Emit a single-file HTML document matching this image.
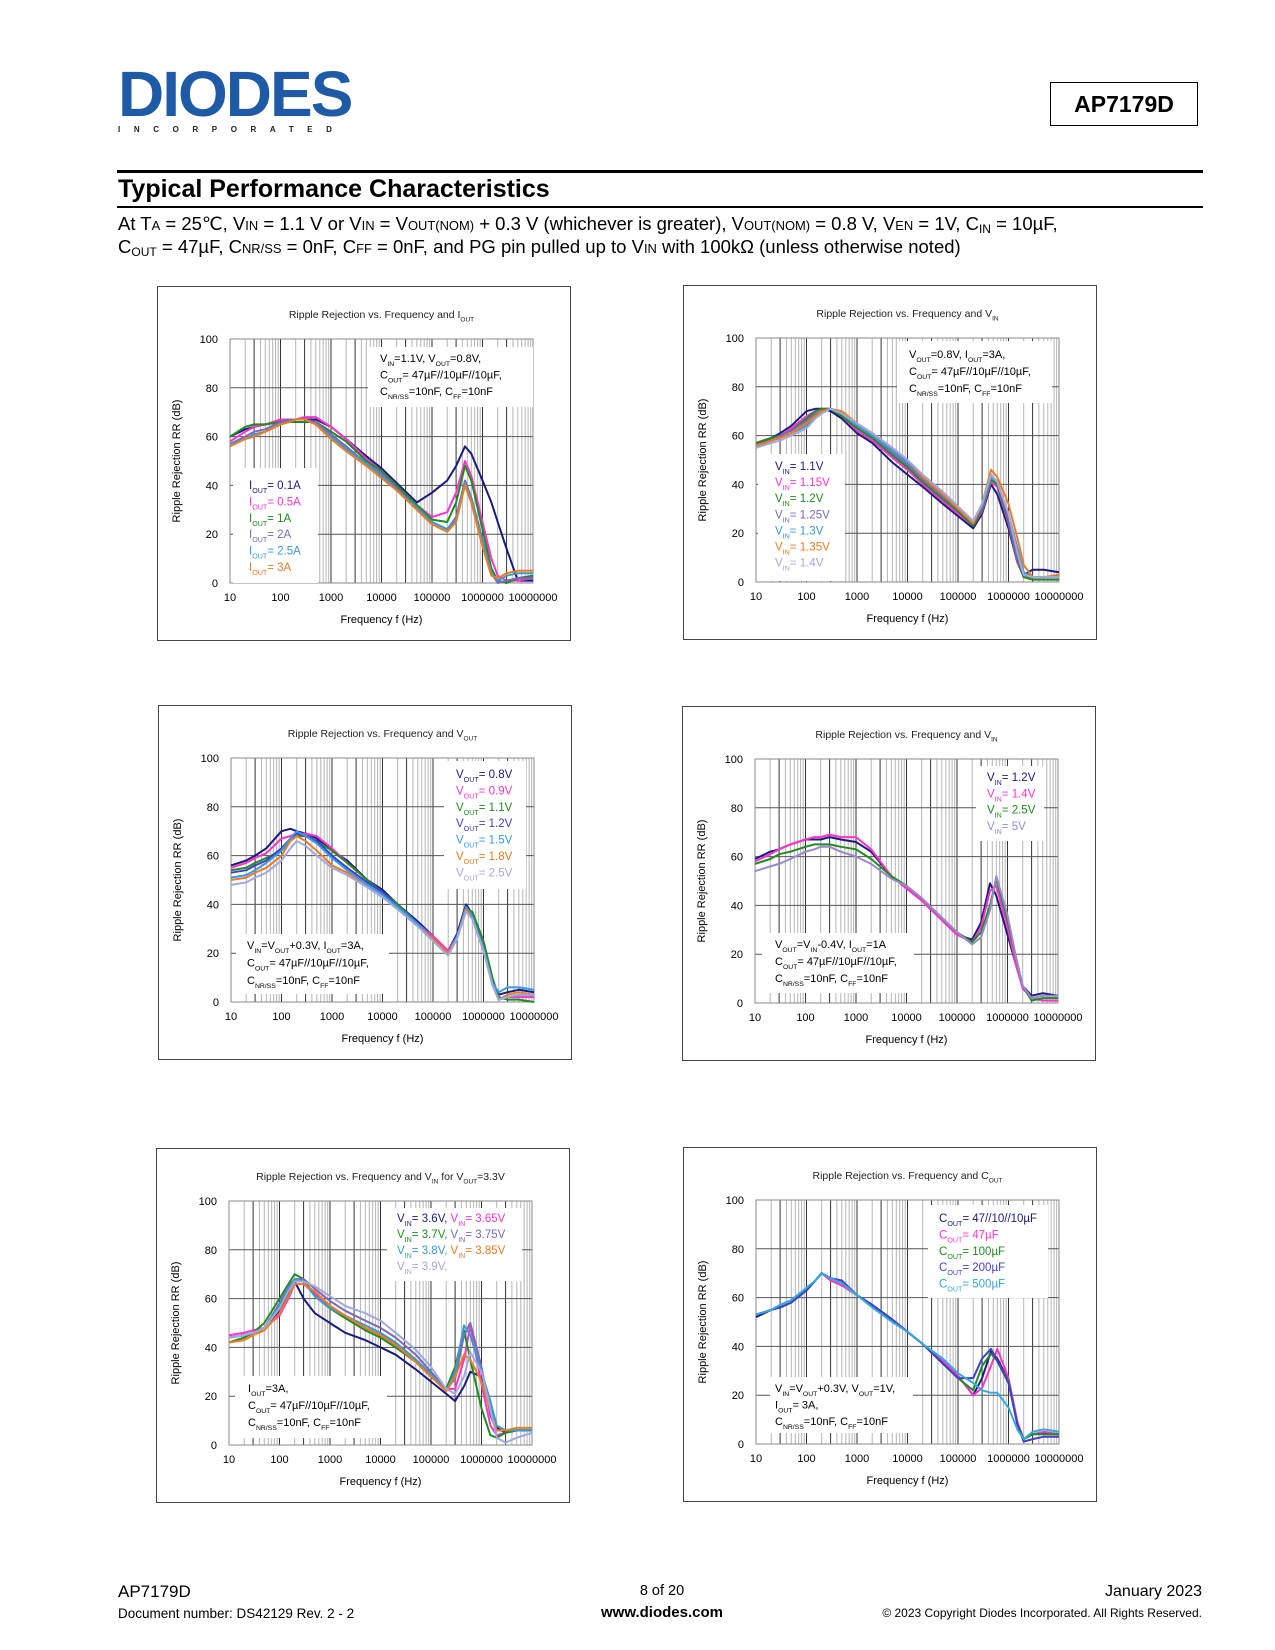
<!DOCTYPE html>
<html><head><meta charset="utf-8">
<style>
body{margin:0;background:#fff;}
#page{position:relative;width:1275px;height:1650px;overflow:hidden;font-family:"Liberation Sans",Arial,sans-serif;color:#000;}
.abs{position:absolute;white-space:nowrap;}
sub{font-size:65%;vertical-align:-3px;line-height:0;}
.sc{font-size:70%;}
</style></head>
<body>
<div id="page">
  <div class="abs" style="left:118px;top:62px;">
    <div style="font-weight:bold;font-size:64px;color:#1f5aa6;letter-spacing:-2px;line-height:64px;">DIODES</div>
    <div style="font-weight:bold;font-size:8px;color:#222;letter-spacing:13.6px;margin-top:-1px;">INCORPORATED</div>
  </div>
  <div class="abs" style="left:1050px;top:82px;width:146px;height:42px;border:1px solid #000;font-weight:bold;font-size:23px;text-align:center;line-height:42px;">AP7179D</div>
  <div class="abs" style="left:117px;top:170px;width:1086px;height:3px;background:#000;"></div>
  <div class="abs" style="left:118px;top:174px;font-weight:bold;font-size:25px;line-height:30px;">Typical Performance Characteristics</div>
  <div class="abs" style="left:117px;top:206px;width:1086px;height:2px;background:#000;"></div>
  <div class="abs" style="left:118px;top:213px;font-size:18.5px;line-height:22px;">At T<span class="sc">A</span> = 25℃, V<span class="sc">IN</span> = 1.1 V or V<span class="sc">IN</span> = V<span class="sc">OUT(NOM)</span> + 0.3 V (whichever is greater), V<span class="sc">OUT(NOM)</span> = 0.8 V, V<span class="sc">EN</span> = 1V, C<sub>IN</sub> = 10µF,</div>
  <div class="abs" style="left:118px;top:236px;font-size:18.5px;line-height:22px;">C<sub>OUT</sub> = 47µF, C<span class="sc">NR/SS</span> = 0nF, C<span class="sc">FF</span> = 0nF, and PG pin pulled up to V<span class="sc">IN</span> with 100kΩ (unless otherwise noted)</div>

  <svg id="charts" width="1275" height="1650" style="position:absolute;left:0;top:0;" xmlns="http://www.w3.org/2000/svg"></svg>

  <div class="abs" style="left:118px;top:1582px;font-size:17px;">AP7179D</div>
  <div class="abs" style="left:118px;top:1606px;font-size:13.5px;">Document number: DS42129 Rev. 2 - 2</div>
  <div class="abs" style="left:612px;width:100px;text-align:center;top:1583px;font-size:14.5px;">8 of 20</div>
  <div class="abs" style="left:582px;width:160px;text-align:center;top:1604px;font-size:15px;font-weight:bold;">www.diodes.com</div>
  <div class="abs" style="right:73px;top:1583px;font-size:16px;">January 2023</div>
  <div class="abs" style="right:73px;top:1606px;font-size:12px;">© 2023 Copyright Diodes Incorporated. All Rights Reserved.</div>
</div>

<script>
// ---------- shared frequency points (Hz) ----------
const freqHz = [10,20,30,50,100,150,200,300,500,1000,2000,5000,1e4,2e4,5e4,1e5,2e5,3e5,4.5e5,6e5,1e6,1.5e6,2e6,3e6,5e6,1e7];
const xTickLabels = ["10","100","1000","10000","100000","1000000","10000000"];
const yTickLabels = ["0","20","40","60","80","100"];

// ---------- chart 1: RR vs Iout ----------
const c1Iout01 = [60,63,64,65,66,67,67,67,67,64,59,52,47,41,33,37,42,48,56,53,42,33,25,14,1,1];
const c1Iout05 = [58,62,64,65,67,67,67,68,68,64,59,51,46,40,32,27,29,37,50,44,25,10,3,1,1,2];
const c1Iout1  = [60,64,65,65,66,66,66,66,66,62,58,50,46,40,32,26,25,33,48,42,22,6,1,0,2,3];
const c1Iout2  = [57,60,62,63,66,67,67,67,66,61,56,49,45,39,31,25,22,27,42,35,18,4,0,1,2,2];
const c1Iout25 = [57,59,61,62,65,66,67,67,65,60,55,49,44,38,31,25,22,26,41,34,17,4,1,3,4,4];
const c1Iout3  = [56,59,60,62,65,66,67,67,65,59,54,48,43,38,30,24,21,25,40,33,15,3,2,4,5,5];

// ---------- chart 2: RR vs Vin ----------
const c2Vin110 = [56,59,61,64,70,71,71,70,67,61,57,49,44,39,32,27,22,28,40,36,22,8,3,5,5,4];
const c2Vin115 = [57,59,60,63,68,70,71,71,68,62,58,51,46,40,33,28,23,29,41,39,24,8,2,2,2,2];
const c2Vin120 = [57,59,60,62,67,70,71,71,68,63,59,52,47,41,34,29,23,30,42,40,25,9,2,1,1,1];
const c2Vin125 = [56,58,60,62,66,69,70,71,69,64,60,53,48,42,35,30,24,31,44,41,26,10,3,2,2,2];
const c2Vin130 = [55,58,59,61,64,68,70,71,69,64,60,54,49,43,36,30,25,31,43,41,28,14,4,2,2,2];
const c2Vin135 = [56,58,59,61,65,68,70,71,70,65,61,55,50,43,36,30,24,32,46,43,32,18,7,2,2,3];
const c2Vin140 = [55,57,58,60,63,67,69,71,69,65,61,55,50,44,37,31,25,32,44,41,28,12,3,2,2,2];

// ---------- chart 3: RR vs Vout ----------
const c3Vout08 = [56,58,60,63,70,71,70,69,67,62,58,50,46,40,33,27,21,28,40,36,22,8,3,4,5,4];
const c3Vout09 = [55,57,59,61,67,68,69,69,68,63,57,50,45,40,32,27,21,27,38,36,22,7,1,2,2,2];
const c3Vout11 = [54,55,57,59,62,66,68,68,66,62,57,50,45,40,32,26,20,27,38,37,25,10,2,1,1,0];
const c3Vout12 = [53,54,56,58,63,67,69,68,66,60,55,49,45,39,32,26,20,27,38,35,22,7,1,2,3,3];
const c3Vout15 = [51,52,54,57,62,67,70,68,65,59,54,48,44,39,32,26,20,27,39,35,22,8,4,6,6,5];
const c3Vout18 = [50,51,53,55,60,66,68,66,62,56,53,47,43,38,31,26,20,26,38,34,21,7,1,3,4,3];
const c3Vout25 = [48,49,51,53,58,63,66,64,60,55,52,47,43,38,31,25,19,26,37,34,21,7,1,2,3,3];

// ---------- chart 4: RR vs Vin (Vout = Vin - 0.4V) ----------
const c4Vin12 = [59,62,63,65,67,67,67,68,67,66,62,52,47,42,34,28,26,33,49,44,28,15,7,3,4,3];
const c4Vin14 = [58,61,63,65,67,68,68,69,68,68,63,52,47,42,34,28,25,31,46,48,31,15,6,2,1,1];
const c4Vin25 = [57,59,61,62,64,65,65,65,64,63,59,52,48,43,35,29,25,29,40,51,34,18,7,1,2,2];
const c4Vin5  = [54,56,57,59,62,63,64,64,62,60,57,51,48,43,35,29,24,27,38,52,36,18,7,2,3,3];

// ---------- chart 5: RR vs Vin for Vout=3.3V ----------
const c5Vin360 = [44,45,46,48,55,62,67,60,54,50,46,43,40,37,31,26,21,18,24,30,28,15,7,5,6,6];
const c5Vin365 = [45,46,47,48,53,60,66,66,62,57,53,48,45,42,35,29,23,23,35,49,25,8,4,5,6,6];
const c5Vin370 = [42,44,46,50,60,66,70,68,61,56,52,47,44,40,34,28,23,32,47,35,15,4,3,5,6,6];
const c5Vin375 = [44,45,46,48,58,65,68,68,64,59,55,51,48,44,37,30,23,27,45,50,32,12,6,6,6,6];
const c5Vin380 = [44,45,46,48,57,64,68,67,61,56,53,49,46,42,35,29,22,30,49,45,30,18,8,6,6,6];
const c5Vin385 = [42,43,45,47,54,61,66,66,63,57,53,48,45,41,34,28,22,28,37,35,26,14,6,6,7,7];
const c5Vin390 = [44,45,46,48,56,63,67,67,65,61,57,54,51,46,39,32,23,21,28,38,30,15,3,1,3,5];

// ---------- chart 6: RR vs Cout ----------
const c6Cout47x = [52,55,56,58,63,67,70,68,66,61,57,51,46,41,33,28,20,27,38,35,26,8,2,4,4.5,4];
const c6Cout47  = [53,55,56,58,63,67,70,67,65,61,57,51,46,41,34,28,20,23,32,39,27,9,2,4,5,4];
const c6Cout100 = [53,55,56,58,63,67,70,68,66,61,57,51,46,41,33,27,22,32,37,34,26,8,2,4,4,4];
const c6Cout200 = [53,55,56,58,63,67,70,68,67,61,57,51,46,41,33,27,27,35,39,34,25,8,1,2,3,3];
const c6Cout500 = [53,55,57,59,64,67,70,68,66,61,56,50,46,41,35,29,25,22,21,21,15,6,2,5,6,5];

const NAVY="#1a1a80", MAG="#ff33cc", GRN="#1f8c1f", PUR="#7a68b8", CYA="#3a9ad0", ORG="#ee7a22", LAV="#a0a8e0", BLU="#4040c8", SKY="#33aadd";

const charts = [
 {name:"chart-ripple-vs-iout", px:230, py:339, title:"Ripple Rejection vs. Frequency and I_{OUT}",
  series:[["0.1A",c1Iout01,NAVY],["0.5A",c1Iout05,MAG],["1A",c1Iout1,GRN],["2A",c1Iout2,PUR],["2.5A",c1Iout25,CYA],["3A",c1Iout3,ORG]],
  legendBox:[3,129,85,115], legendText:[19,150,16.4], legendLabels:["I_{OUT}= 0.1A","I_{OUT}= 0.5A","I_{OUT}= 1A","I_{OUT}= 2A","I_{OUT}= 2.5A","I_{OUT}= 3A"],
  noteBox:[138,8,165,60], noteText:[150,23,16.5], noteLines:["V_{IN}=1.1V, V_{OUT}=0.8V,","C_{OUT}= 47µF//10µF//10µF,","C_{NR/SS}=10nF, C_{FF}=10nF"]},
 {name:"chart-ripple-vs-vin", px:756, py:338, title:"Ripple Rejection vs. Frequency and V_{IN}",
  series:[["1.1V",c2Vin110,NAVY],["1.15V",c2Vin115,MAG],["1.2V",c2Vin120,GRN],["1.25V",c2Vin125,PUR],["1.3V",c2Vin130,CYA],["1.35V",c2Vin135,ORG],["1.4V",c2Vin140,LAV]],
  legendBox:[2,116,87,127], legendText:[19,132,16.1], legendLabels:["V_{IN}= 1.1V","V_{IN}= 1.15V","V_{IN}= 1.2V","V_{IN}= 1.25V","V_{IN}= 1.3V","V_{IN}= 1.35V","V_{IN}= 1.4V"],
  noteBox:[141,3,155,62], noteText:[153,20,17], noteLines:["V_{OUT}=0.8V, I_{OUT}=3A,","C_{OUT}= 47µF//10µF//10µF,","C_{NR/SS}=10nF, C_{FF}=10nF"]},
 {name:"chart-ripple-vs-vout", px:231, py:758, title:"Ripple Rejection vs. Frequency and V_{OUT}",
  series:[["0.8V",c3Vout08,NAVY],["0.9V",c3Vout09,MAG],["1.1V",c3Vout11,GRN],["1.2V",c3Vout12,BLU],["1.5V",c3Vout15,"#3399ee"],["1.8V",c3Vout18,ORG],["2.5V",c3Vout25,LAV]],
  legendBox:[213,3,82,128], legendText:[225,20,16.4], legendLabels:["V_{OUT}= 0.8V","V_{OUT}= 0.9V","V_{OUT}= 1.1V","V_{OUT}= 1.2V","V_{OUT}= 1.5V","V_{OUT}= 1.8V","V_{OUT}= 2.5V"],
  noteBox:[5,176,153,60], noteText:[16,191,17.5], noteLines:["V_{IN}=V_{OUT}+0.3V, I_{OUT}=3A,","C_{OUT}= 47µF//10µF//10µF,","C_{NR/SS}=10nF, C_{FF}=10nF"]},
 {name:"chart-ripple-vs-vin-vout-offset", px:755, py:759, title:"Ripple Rejection vs. Frequency and V_{IN}",
  series:[["1.2V",c4Vin12,NAVY],["1.4V",c4Vin14,MAG],["2.5V",c4Vin25,GRN],["5V",c4Vin5,"#9a88cc"]],
  legendBox:[221,7,68,75], legendText:[232,22,16.3], legendLabels:["V_{IN}= 1.2V","V_{IN}= 1.4V","V_{IN}= 2.5V","V_{IN}= 5V"],
  noteBox:[7,174,152,60], noteText:[20,189,17], noteLines:["V_{OUT}=V_{IN}-0.4V, I_{OUT}=1A","C_{OUT}= 47µF//10µF//10µF,","C_{NR/SS}=10nF, C_{FF}=10nF"]},
 {name:"chart-ripple-vs-vin-3v3", px:229, py:1201, title:"Ripple Rejection vs. Frequency and V_{IN} for V_{OUT}=3.3V",
  series:[["3.6V",c5Vin360,NAVY],["3.65V",c5Vin365,MAG],["3.7V",c5Vin370,GRN],["3.75V",c5Vin375,PUR],["3.8V",c5Vin380,CYA],["3.85V",c5Vin385,ORG],["3.9V",c5Vin390,LAV]],
  legendBox:[158,7,135,73], legendText:[168,21,16], legendLabels:null,
  noteBox:[6,175,152,62], noteText:[19,191,17], noteLines:["I_{OUT}=3A,","C_{OUT}= 47µF//10µF//10µF,","C_{NR/SS}=10nF, C_{FF}=10nF"]},
 {name:"chart-ripple-vs-cout", px:756, py:1200, title:"Ripple Rejection vs. Frequency and C_{OUT}",
  series:[["47//10//10µF",c6Cout47x,NAVY],["47µF",c6Cout47,MAG],["100µF",c6Cout100,GRN],["200µF",c6Cout200,BLU],["500µF",c6Cout500,SKY]],
  legendBox:[172,5,120,93], legendText:[183,22,16.4], legendLabels:["C_{OUT}= 47//10//10µF","C_{OUT}= 47µF","C_{OUT}= 100µF","C_{OUT}= 200µF","C_{OUT}= 500µF"],
  noteBox:[14,177,143,56], noteText:[19,192,16.5], noteLines:["V_{IN}=V_{OUT}+0.3V, V_{OUT}=1V,","I_{OUT}= 3A,","C_{NR/SS}=10nF, C_{FF}=10nF"]}
];
const PW=303, PH=244;
const svg=document.getElementById('charts');
const NS="http://www.w3.org/2000/svg";
function mk(tag, attrs, parent){const e=document.createElementNS(NS,tag);for(const k in attrs)e.setAttribute(k,attrs[k]);(parent||svg).appendChild(e);return e;}
function richText(parent, str, x, y, size, fill, anchor){
  const t=mk('text',{x:x,y:y,'font-size':size,fill:fill||'#000','text-anchor':anchor||'start','font-family':'"Liberation Sans",Arial,sans-serif'},parent);
  const parts=str.split(/(_\{[^}]*\})/);
  for(const p of parts){ if(!p)continue;
    if(p.startsWith('_{')){const s=mk('tspan',{dy:size*0.35,'font-size':size*0.62},t);s.textContent=p.slice(2,-1);
      const b=mk('tspan',{dy:-size*0.35},t);b.textContent='\u200b';}
    else{const s=mk('tspan',{},t);s.textContent=p;}
  }
  return t;
}

charts.forEach((c)=>{
  const g=mk('g',{});
  
  
  const xs=f=>c.px+(Math.log10(f)-1)*PW/6;
  const ys=v=>c.py+PH-v/100*PH;
  const frame=mk('rect',{x:c.px-72.5,y:c.py-52.5,width:413,height:354,fill:'#fff',stroke:'#444','stroke-width':1},g);
  
  
  for(let d=1;d<7;d++){for(let m=1;m<10;m++){const f=m*Math.pow(10,d);const x=xs(f);
    const l=mk('line',{x1:x,x2:x,y1:c.py,y2:c.py+PH,stroke:(m===1||m===3)?'#333':'#b5b5b5','stroke-width':1},g);
    
    }}
  yTickLabels.forEach((lab,i)=>{const v=+lab;const y=ys(v);
    const l=mk('line',{x1:c.px,x2:c.px+PW,y1:y,y2:y,stroke:'#555','stroke-width':1},g);
    
    
    const t=mk('text',{x:c.px-12,y:y+4,'font-size':11,'text-anchor':'end'},g);t.textContent=lab;
    
    });
  xTickLabels.forEach((lab)=>{const x=xs(+lab);
    const t=mk('text',{x:x,y:c.py+PH+18,'font-size':11,'text-anchor':'middle'},g);t.textContent=lab;
    
    });
  const border=mk('rect',{x:c.px,y:c.py,width:PW,height:PH,fill:'none',stroke:'#888','stroke-width':1},g);
  
  
  const lb=mk('rect',{x:c.px+c.legendBox[0],y:c.py+c.legendBox[1],width:c.legendBox[2],height:c.legendBox[3],fill:'#fff'},g);
  
  
  const nb=mk('rect',{x:c.px+c.noteBox[0],y:c.py+c.noteBox[1],width:c.noteBox[2],height:c.noteBox[3],fill:'#fff'},g);
  
  
  c.series.forEach((s)=>{
    const pts=freqHz.map((f,i)=>xs(f).toFixed(1)+','+ys(s[1][i]).toFixed(1)).join(' ');
    const pl=mk('polyline',{points:pts,fill:'none',stroke:s[2],'stroke-width':2,'stroke-linejoin':'round'},g);
    
    
  });
  const tt=richText(g,c.title,c.px+PW/2,c.py-21,10.5,'#222','middle');
  
  
  const yl=mk('text',{x:0,y:0,'font-size':11,'text-anchor':'middle',transform:`translate(${c.px-50},${c.py+PH/2}) rotate(-90)`},g);
  yl.textContent='Ripple Rejection RR (dB)';
  
  
  const xl=mk('text',{x:c.px+PW/2,y:c.py+PH+40,'font-size':11,'text-anchor':'middle'},g);
  xl.textContent='Frequency f (Hz)';
  
  
  if(c.legendLabels){
    c.legendLabels.forEach((lab,i)=>{
      const t=richText(g,lab,c.px+c.legendText[0],c.py+c.legendText[1]+i*c.legendText[2],11.5,c.series[i][2]);
      
      
    });
  } else {
    const rows=[[0,1],[2,3],[4,5],[6]];
    rows.forEach((r,ri)=>{
      let x=c.px+c.legendText[0];
      r.forEach((si,k)=>{
        const lab='V_{IN}= '+c.series[si][0]+(k===0?', ':(ri===3?',':''));
        const t=richText(g,lab,x,c.py+c.legendText[1]+ri*c.legendText[2],11.5,c.series[si][2]);
        
        
        x+=t.getComputedTextLength()+ (k===0?3:0);
      });
    });
  }
  c.noteLines.forEach((ln,i)=>{
    const t=richText(g,ln,c.px+c.noteText[0],c.py+c.noteText[1]+i*c.noteText[2],11,'#000');
    
    
  });
});
</script>
</body></html>
